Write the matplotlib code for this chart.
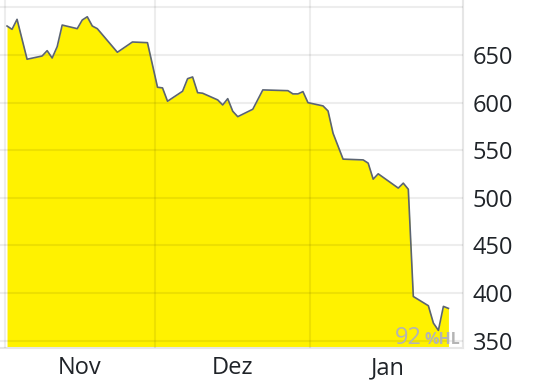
import matplotlib
matplotlib.use('Agg')
import matplotlib.pyplot as plt
import matplotlib.dates as mdates
import matplotlib.ticker as mticker
import pandas as pd

# daily closes (straight runs keep only their end points)
DATES = [
    '2021-11-01', '2021-11-02', '2021-11-03', '2021-11-05', '2021-11-08', '2021-11-09',
    '2021-11-10', '2021-11-11', '2021-11-12', '2021-11-15', '2021-11-16', '2021-11-17',
    '2021-11-18', '2021-11-19', '2021-11-23', '2021-11-26', '2021-11-29', '2021-12-01',
    '2021-12-02', '2021-12-03', '2021-12-06', '2021-12-07', '2021-12-08', '2021-12-09',
    '2021-12-10', '2021-12-13', '2021-12-14', '2021-12-15', '2021-12-16', '2021-12-17',
    '2021-12-20', '2021-12-22', '2021-12-27', '2021-12-28', '2021-12-29', '2021-12-30',
    '2021-12-31', '2022-01-03', '2022-01-04', '2022-01-05', '2022-01-07', '2022-01-11',
    '2022-01-12', '2022-01-13', '2022-01-14', '2022-01-18', '2022-01-19', '2022-01-20',
    '2022-01-21', '2022-01-24', '2022-01-25', '2022-01-26', '2022-01-27', '2022-01-28',
]
PRICES = [
    680.4, 676.9, 687.4, 645.5, 648.9, 654.5,
    646.8, 658.7, 681.4, 677.6, 686.7, 690.1,
    680.4, 677.6, 652.8, 663.6, 662.9, 616.1,
    615.4, 601.4, 611.9, 625.1, 626.9, 610.4,
    609.8, 602.8, 597.5, 604.1, 590.9, 585.2,
    593.0, 613.3, 612.5, 609.1, 609.1, 611.5,
    599.9, 596.5, 591.2, 567.8, 540.6, 539.8,
    536.4, 519.6, 525.2, 510.2, 515.4, 509.0,
    396.4, 386.7, 368.5, 360.8, 386.0, 383.9,
]
MONTH_STARTS = ['2021-11-01', '2021-12-01', '2022-01-01', '2022-02-01']
MONTH_LABELS = ['Nov', 'Dez', 'Jan']
Y_TICKS = [350, 400, 450, 500, 550, 600, 650, 700]
HL_VALUE = '92'

YELLOW = '#fff200'
LINE = '#5b6472'
TEXT = '#1f2328'

plt.rcParams['font.family'] = ['Open Sans', 'DejaVu Sans']

x = mdates.date2num(pd.to_datetime(DATES))
bounds = mdates.date2num(pd.to_datetime(MONTH_STARTS)) - 0.5
mids = (bounds[:-1] + bounds[1:]) / 2
start = x[0]

fig = plt.figure(figsize=(5.58, 3.82), dpi=100)
ax = fig.add_axes([0, 0.089, 0.8297, 0.911])

ax.fill_between(x, PRICES, 300, color=YELLOW, lw=0, zorder=1)
ax.plot(x, PRICES, color=LINE, lw=1.2, zorder=3)

ax.set_xlim(start - 1.4, start + 90.9)
ax.set_ylim(342.3, 707.7)

ax.xaxis.set_major_locator(mticker.FixedLocator(bounds))
ax.xaxis.set_major_formatter(mticker.NullFormatter())
ax.xaxis.set_minor_locator(mticker.FixedLocator(mids))
ax.xaxis.set_minor_formatter(mticker.FixedFormatter(MONTH_LABELS))
ax.tick_params(axis='x', which='both', length=0, labelsize=17, labelcolor=TEXT, pad=6)

ax.yaxis.tick_right()
ax.set_yticks(Y_TICKS)
ax.set_yticklabels([str(v) if v < 700 else '' for v in Y_TICKS])
ax.tick_params(axis='y', length=0, labelsize=17, labelcolor=TEXT, pad=7)

ax.set_axisbelow(False)
ax.grid(True, which='major', color='black', alpha=0.07, lw=1.5)

for side in ['left', 'top']:
    ax.spines[side].set_visible(False)
for side in ['right', 'bottom']:
    ax.spines[side].set_color('#e6e6e6')
    ax.spines[side].set_linewidth(1.5)

ax.text(0.911, 0.011, HL_VALUE, transform=ax.transAxes, ha='right', va='baseline',
        fontsize=17, color='#b4b4b4', zorder=4)
ax.text(0.9935, 0.011, '%HL', transform=ax.transAxes, ha='right', va='baseline',
        fontsize=11.5, fontweight='bold', color='#b4b4b4', zorder=4)

fig.savefig('out.png', dpi=100)
